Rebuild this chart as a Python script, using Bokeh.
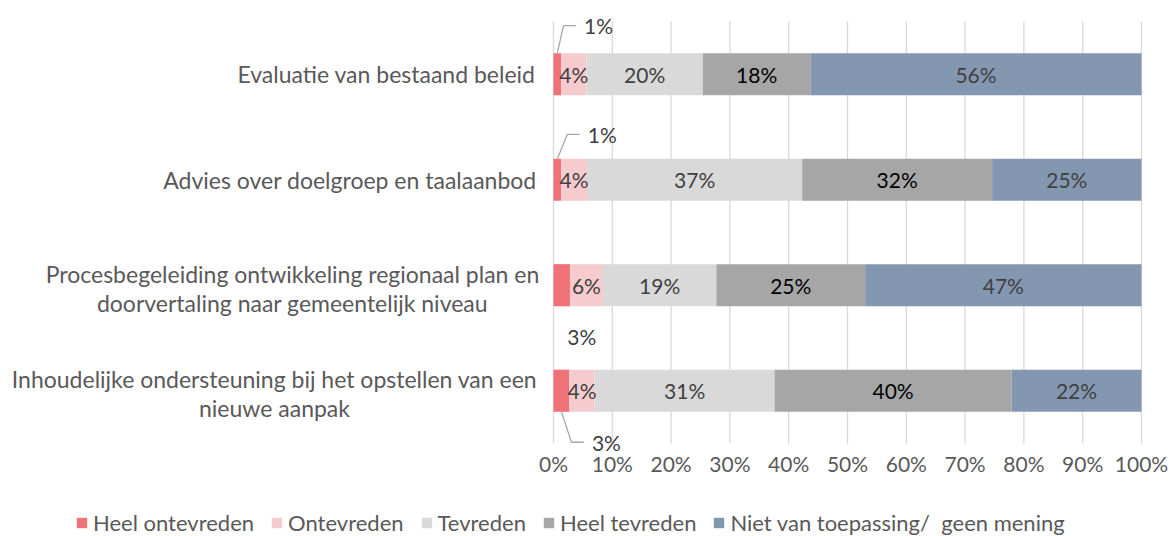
import numpy as np
from bokeh.plotting import figure
from bokeh.models import ColumnDataSource, LabelSet, Range1d, Legend, LegendItem
from bokeh.core.properties import value
from bokeh.embed import file_html
from bokeh.resources import INLINE

# ---------------- data ----------------
categories = [
    "Evaluatie van bestaand beleid",
    "Advies over doelgroep en taalaanbod",
    "Procesbegeleiding ontwikkeling regionaal plan en\ndoorvertaling naar gemeentelijk niveau",
    "Inhoudelijke ondersteuning bij het opstellen van een\nnieuwe aanpak",
]
series_names = ["Heel ontevreden", "Ontevreden", "Tevreden", "Heel tevreden",
                "Niet van toepassing/  geen mening"]
heel_ontevreden = [1.3, 1.3, 2.8, 2.7]
ontevreden = [4.3, 4.4, 5.6, 4.3]
tevreden = [19.8, 36.6, 19.3, 30.6]
heel_tevreden = [18.3, 32.3, 25.3, 40.3]
niet_van_toepassing = [56.3, 25.4, 47.0, 22.1]
x_ticks = [0, 10, 20, 30, 40, 50, 60, 70, 80, 90, 100]
tick_labels = ["0%", "10%", "20%", "30%", "40%", "50%", "60%", "70%", "80%", "90%", "100%"]

# ---------------- styles / layout ----------------
colors = ["#F07279", "#F6CBCE", "#D9D9D9", "#A6A6A6", "#8497B0"]
label_colors = ["#404040", "#404040", "#404040", "#000000", "#404040"]
FONT = value("Lato")
TXT = "#595959"
W, H = 1169, 536
PLOT_L, PLOT_W = 553, 588          # plot area in canvas px
PLOT_T, PLOT_H = 21, 422
cat_pos = [3, 2, 1, 0]             # top to bottom
y_lo, y_hi = -0.5, 3.5
bar_h = 0.4
px_x = PLOT_W / 100.0
px_y = PLOT_H / (y_hi - y_lo)
x_start = -PLOT_L / px_x
x_end = 100 + (W - PLOT_L - PLOT_W) / px_x
y_end = y_hi + PLOT_T / px_y
y_start = y_lo - (H - PLOT_T - PLOT_H) / px_y

cat_center_px = [386, 349.5, 292, 274]       # horizontal centre of category text block
cat_line_px = 29                             # line spacing of category text
cat_shift_px = 3                             # multi-line block shift downwards
tick_label_dy = 20 / px_y                    # below plot area
out_dx = [7.0, 7.65, 3.4, 7.65]              # outside labels of first segment
out_dy = [0.46, 0.43, -0.486, -0.488]
out_leader = [True, True, False, True]

series = [heel_ontevreden, ontevreden, tevreden, heel_tevreden, niet_van_toepassing]

p = figure(width=W, height=H, output_backend="svg", toolbar_location=None,
           x_range=Range1d(x_start, x_end), y_range=Range1d(y_start, y_end),
           min_border=0, min_border_left=0, min_border_right=0,
           min_border_top=0, min_border_bottom=0)
p.outline_line_color = None
p.background_fill_color = "white"
p.border_fill_color = "white"
p.xaxis.visible = False
p.yaxis.visible = False
p.xgrid.grid_line_color = None
p.ygrid.grid_line_color = None

# vertical gridlines
p.segment(x0=x_ticks, x1=x_ticks, y0=[y_lo] * len(x_ticks), y1=[y_hi] * len(x_ticks),
          line_color="#D9D9D9", line_width=1.3)
# tick labels
p.add_layout(LabelSet(source=ColumnDataSource(dict(x=x_ticks, y=[y_lo - tick_label_dy] * len(x_ticks),
                                                   t=tick_labels)),
                      x="x", y="y", text="t", text_color=TXT, text_align="center",
                      text_baseline="middle", text_font=FONT, text_font_size="21px"))

left = np.zeros(len(categories))
renderers = []
lab_x, lab_y, lab_t, lab_c = [], [], [], []
o_x, o_y, o_t = [], [], []
leader_xs, leader_ys = [], []
for si, vals in enumerate(series):
    vals = np.array(vals, dtype=float)
    right = left + vals
    src = ColumnDataSource(dict(y=cat_pos, left=left, right=right))
    r = p.hbar(y="y", left="left", right="right", height=bar_h, source=src,
               fill_color=colors[si], line_color=None)
    renderers.append(r)
    for ci in range(len(categories)):
        c = (left[ci] + right[ci]) / 2
        txt = f"{round(vals[ci])}%"
        if si == 0:
            lx = c + out_dx[ci]
            ly = cat_pos[ci] + out_dy[ci]
            o_x.append(lx); o_y.append(ly); o_t.append(txt)
            if out_leader[ci]:
                sgn = 1 if out_dy[ci] > 0 else -1
                leader_xs.append([c, lx - 5.95, lx - 3.85])
                leader_ys.append([cat_pos[ci] + sgn * bar_h / 2, ly, ly])
        else:
            lab_x.append(c); lab_y.append(cat_pos[ci]); lab_t.append(txt)
            lab_c.append(label_colors[si])
    left = right

p.multi_line(xs=leader_xs, ys=leader_ys, line_color="#A6A6A6", line_width=1.3)

p.add_layout(LabelSet(source=ColumnDataSource(dict(x=lab_x, y=lab_y, t=lab_t, c=lab_c)),
                      x="x", y="y", text="t", text_color="c", text_align="center",
                      text_baseline="middle", text_font=FONT, text_font_size="21px"))
p.add_layout(LabelSet(source=ColumnDataSource(dict(x=o_x, y=o_y, t=o_t)),
                      x="x", y="y", text="t", text_color="#404040", text_align="center",
                      text_baseline="middle", text_font=FONT, text_font_size="21px"))

# category labels, one centred text per line
c_x, c_y, c_t = [], [], []
for ci, cat in enumerate(categories):
    lines = cat.split("\n")
    n = len(lines)
    shift = cat_shift_px if n > 1 else 0
    for li, line in enumerate(lines):
        off_px = (li - (n - 1) / 2) * cat_line_px + shift
        c_x.append((cat_center_px[ci] - PLOT_L) / px_x)
        c_y.append(cat_pos[ci] - off_px / px_y)
        c_t.append(line)
p.add_layout(LabelSet(source=ColumnDataSource(dict(x=c_x, y=c_y, t=c_t)),
                      x="x", y="y", text="t", text_color=TXT, text_align="center",
                      text_baseline="middle", text_font=FONT, text_font_size="23px"))

legend = Legend(items=[LegendItem(label=n, renderers=[r]) for n, r in zip(series_names, renderers)],
                orientation="horizontal", location=(75, 0),
                border_line_color=None, background_fill_alpha=0, padding=0, margin=0,
                spacing=16, label_standoff=5, glyph_width=13, glyph_height=13,
                label_text_font="Lato", label_text_font_size="22px", label_text_color=TXT)
p.add_layout(legend, "center")

open("out.html", "w").write(file_html(p, INLINE))
